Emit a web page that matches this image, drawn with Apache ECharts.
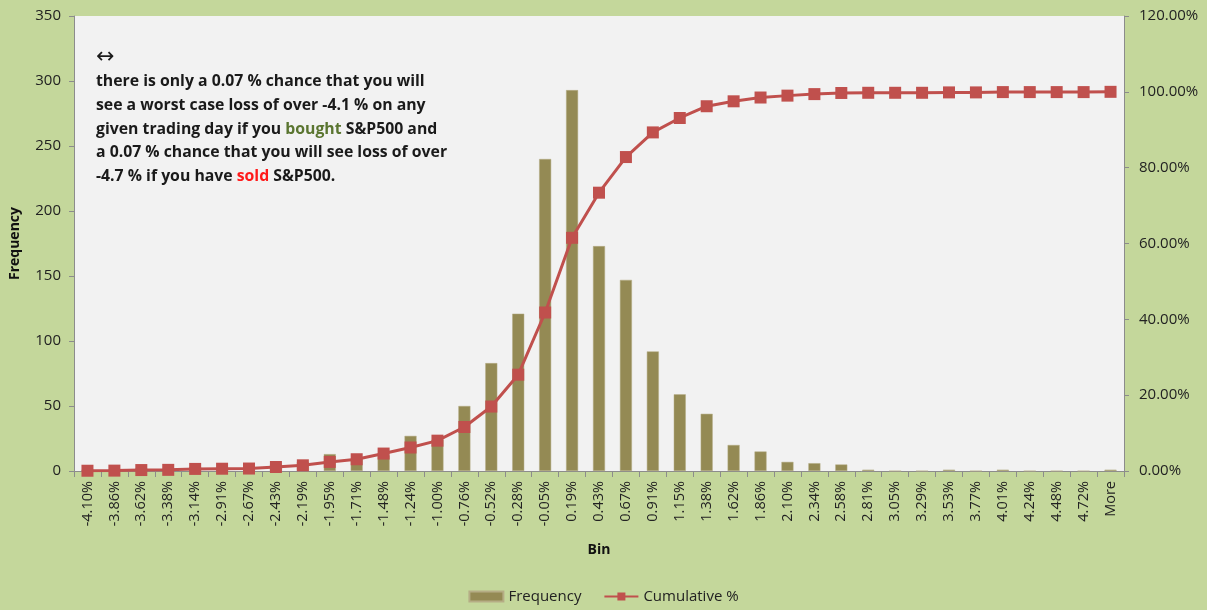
<!DOCTYPE html>
<html>
<head>
<meta charset="utf-8">
<script src="https://cdn.jsdelivr.net/npm/echarts@6/dist/echarts.min.js"></script>
<style>html,body{margin:0;padding:0;background:#c4d79b;}#c{width:1207px;height:610px;}</style>
</head>
<body>
<div id="c"></div>
<script>
const bins = ['-4.10%','-3.86%','-3.62%','-3.38%','-3.14%','-2.91%','-2.67%','-2.43%','-2.19%','-1.95%','-1.71%','-1.48%','-1.24%','-1.00%','-0.76%','-0.52%','-0.28%','-0.05%','0.19%','0.43%','0.67%','0.91%','1.15%','1.38%','1.62%','1.86%','2.10%','2.34%','2.58%','2.81%','3.05%','3.29%','3.53%','3.77%','4.01%','4.24%','4.48%','4.72%','More'];
const frequency = [1,1,2,1,3,1,1,5,7,13,9,12,27,24,50,83,121,240,293,173,147,92,59,44,20,15,7,6,5,1,0,0,1,0,1,0,0,0,1];
const cumulative = [0.07,0.1,0.25,0.3,0.55,0.6,0.65,1.05,1.5,2.4,3.1,4.6,6.2,8.0,11.6,17.0,25.4,41.8,61.5,73.4,82.8,89.3,93.1,96.2,97.5,98.5,99.0,99.4,99.7,99.75,99.75,99.75,99.85,99.85,99.93,99.93,99.93,99.93,100.0];
const leftTicks = {min:0, max:350, interval:50};
const rightTicks = {min:0, max:120, interval:20};

const FONT = '"Open Sans", Lato, sans-serif';
const chart = echarts.init(document.getElementById('c'));
chart.setOption({
  backgroundColor: '#c4d79b',
  animation: false,
  textStyle: {fontFamily: FONT},
  grid: {left: 72, right: 83, top: 16, bottom: 139, show: true, backgroundColor: '#f2f2f2', borderWidth: 0},
  legend: {
    bottom: 1, left: 'center', itemGap: 22, itemWidth: 34, itemHeight: 10,
    textStyle: {fontFamily: FONT, fontSize: 15, color: '#222'},
    data: [{name: 'Frequency', icon: 'rect'}, {name: 'Cumulative %'}]
  },
  xAxis: {
    type: 'category', data: bins,
    name: 'Bin', nameLocation: 'middle', nameGap: 72,
    nameTextStyle: {fontWeight: 'bold', fontSize: 14, color: '#111', fontFamily: FONT},
    axisLine: {lineStyle: {color: '#8c8c8c', width: 1}},
    axisTick: {show: true, alignWithLabel: false, length: 6, lineStyle: {color: '#8c8c8c'}},
    axisLabel: {rotate: 90, interval: 0, fontSize: 14.5, color: '#222', margin: 10, fontFamily: FONT}
  },
  yAxis: [
    {
      type: 'value', min: leftTicks.min, max: leftTicks.max, interval: leftTicks.interval,
      name: 'Frequency', nameLocation: 'middle', nameGap: 52, nameRotate: 90,
      nameTextStyle: {fontWeight: 'bold', fontSize: 14, color: '#111', fontFamily: FONT},
      axisLine: {show: true, lineStyle: {color: '#8c8c8c'}},
      axisTick: {show: true, length: 5, lineStyle: {color: '#8c8c8c'}},
      splitLine: {show: false},
      axisLabel: {fontSize: 15, color: '#222', margin: 13, fontFamily: FONT}
    },
    {
      type: 'value', min: rightTicks.min, max: rightTicks.max, interval: rightTicks.interval,
      position: 'right',
      axisLine: {show: true, lineStyle: {color: '#8c8c8c'}},
      axisTick: {show: true, length: 5, lineStyle: {color: '#8c8c8c'}},
      splitLine: {show: false},
      axisLabel: {fontSize: 15, color: '#222', margin: 15, fontFamily: FONT,
        formatter: v => v.toFixed(2) + '%'}
    }
  ],
  series: [
    {
      name: 'Frequency', type: 'bar', data: frequency, barWidth: 12,
      itemStyle: {color: '#948a54', borderColor: '#b5ad85', borderWidth: 0.5}
    },
    {
      name: 'Cumulative %', type: 'line', yAxisIndex: 1, data: cumulative,
      symbol: 'rect', symbolSize: 12,
      lineStyle: {color: '#c0504d', width: 3},
      itemStyle: {color: '#c0504d'}
    }
  ],
  graphic: [
    {
      type: 'text', left: 96, top: 44, z: 100,
      style: {
        text: '{a|↔}\n{t|there is only a 0.07 % chance that you will}\n{t|see a worst case loss of over -4.1 % on any}\n{t|given trading day if you }{g|bought}{t| S&P500 and}\n{t|a 0.07 % chance that you will see loss of over}\n{t|-4.7 % if you have }{r|sold}{t| S&P500.}',
        font: 'bold 16px ' + FONT,
        fill: '#1a1a1a',
        lineHeight: 23.6,
        rich: {
          a: {fontSize: 22, fontFamily: '"DejaVu Sans", sans-serif', fill: '#1a1a1a', lineHeight: 26},
          t: {fontWeight: 'bold', fontSize: 15.8, fontFamily: FONT, fill: '#1a1a1a', lineHeight: 23.6},
          g: {fontWeight: 'bold', fontSize: 15.8, fontFamily: FONT, fill: '#5a7530', lineHeight: 23.6},
          r: {fontWeight: 'bold', fontSize: 15.8, fontFamily: FONT, fill: '#ff1a1a', lineHeight: 23.6}
        }
      }
    }
  ]
});
</script>
</body>
</html>
